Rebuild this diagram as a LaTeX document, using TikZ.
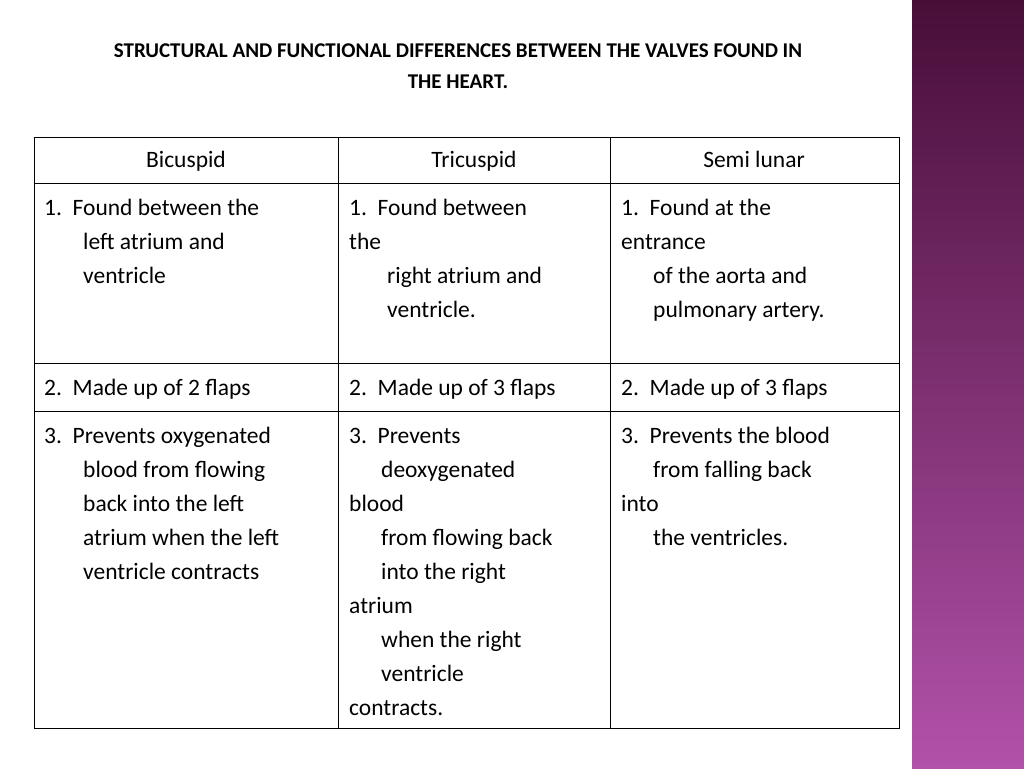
\documentclass[tikz,border=0pt]{standalone}
\usepackage{fontspec}
\setmainfont{Carlito}
\begin{document}
\begin{tikzpicture}[x=1pt,y=-1pt,
  tx/.style={anchor=base west,inner sep=0pt,font=\fontsize{23.5}{28}\selectfont},
  hd/.style={anchor=base,inner sep=0pt,font=\fontsize{23.5}{28}\selectfont},
  tt/.style={anchor=base,inner sep=0pt,font=\bfseries\fontsize{21}{25}\selectfont}]
\useasboundingbox (0,0) rectangle (1024,768);
\fill[white] (0,0) rectangle (1024,768);
\shade[top color={rgb,255:red,72;green,14;blue,56},bottom color={rgb,255:red,178;green,82;blue,170}] (912,0) rectangle (1024,768);
\node[tt] (t1) at (458,58) {STRUCTURAL AND FUNCTIONAL DIFFERENCES BETWEEN THE VALVES FOUND IN};
\node[tt] (t2) at (458,88) {THE HEART.};
\draw[line width=1pt] (34,137) rectangle (899,728);
\draw[line width=1pt] (338,137) -- (338,728) (610,137) -- (610,728);
\draw[line width=1pt] (34,183) -- (899,183) (34,363) -- (899,363) (34,411) -- (899,411);
\node[hd] (h1) at (186,167) {Bicuspid};
\node[hd] (h2) at (474,167) {Tricuspid};
\node[hd] (h3) at (754,167) {Semi lunar};
% row 1
\node[tx] (a1) at (44,215) {1.\ \ Found between the};
\node[tx] (a2) at (83,249) {left atrium and};
\node[tx] (a3) at (83,283) {ventricle};
\node[tx] (b1) at (349,215) {1.\ \ Found between};
\node[tx] (b2) at (349,249) {the};
\node[tx] (b3) at (387,283) {right atrium and};
\node[tx] (b4) at (387,317) {ventricle.};
\node[tx] (c1) at (621,215) {1.\ \ Found at the};
\node[tx] (c2) at (621,249) {entrance};
\node[tx] (c3) at (653,283) {of the aorta and};
\node[tx] (c4) at (653,317) {pulmonary artery.};
% row 2
\node[tx] (d1) at (44,395) {2.\ \ Made up of 2 flaps};
\node[tx] (d2) at (349,395) {2.\ \ Made up of 3 flaps};
\node[tx] (d3) at (621,395) {2.\ \ Made up of 3 flaps};
% row 3
\node[tx] (e1) at (44,443) {3.\ \ Prevents oxygenated};
\node[tx] (e2) at (83,477) {blood from flowing};
\node[tx] (e3) at (83,511) {back into the left};
\node[tx] (e4) at (83,545) {atrium when the left};
\node[tx] (e5) at (83,579) {ventricle contracts};
\node[tx] (f1) at (349,443) {3.\ \ Prevents};
\node[tx] (f2) at (381,477) {deoxygenated};
\node[tx] (f3) at (349,511) {blood};
\node[tx] (f4) at (381,545) {from flowing back};
\node[tx] (f5) at (381,579) {into the right};
\node[tx] (f6) at (349,613) {atrium};
\node[tx] (f7) at (381,647) {when the right};
\node[tx] (f8) at (381,681) {ventricle};
\node[tx] (f9) at (349,715) {contracts.};
\node[tx] (g1) at (621,443) {3.\ \ Prevents the blood};
\node[tx] (g2) at (653,477) {from falling back};
\node[tx] (g3) at (621,511) {into};
\node[tx] (g4) at (653,545) {the ventricles.};
\end{tikzpicture}
\end{document}
